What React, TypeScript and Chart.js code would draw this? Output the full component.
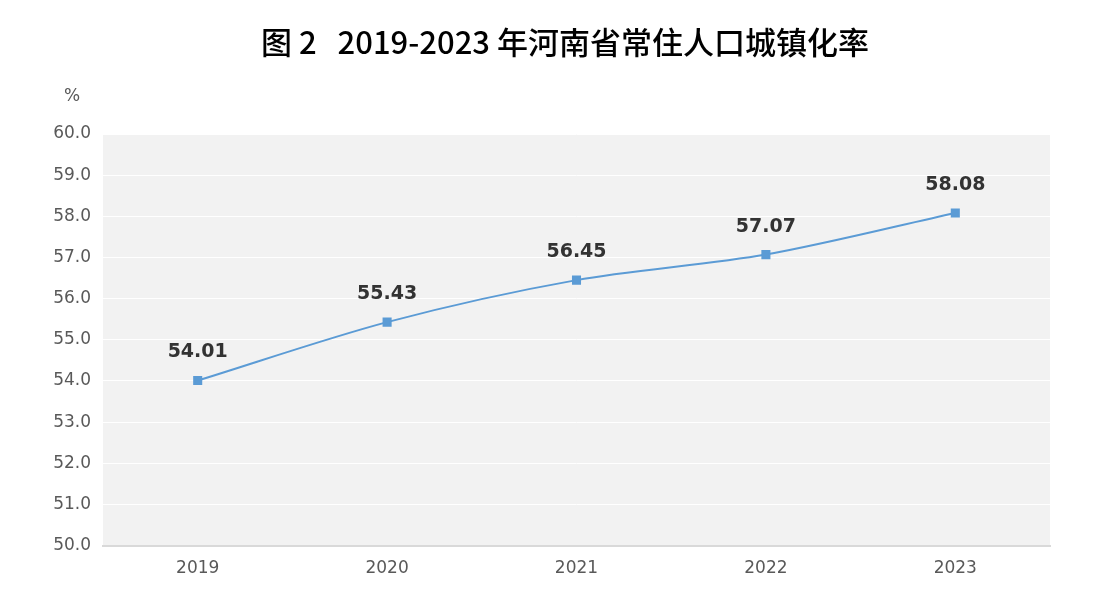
import React, { useEffect, useRef } from "react";
import { Chart, registerables } from "chart.js";

Chart.register(...registerables);

const titleText = "图 2   2019-2023 年河南省常住人口城镇化率";
const unitLabel = "%";
const years = ["2019", "2020", "2021", "2022", "2023"];
const rates = [54.01, 55.43, 56.45, 57.07, 58.08];
const yMin = 50;
const yMax = 60;
const yStep = 1;

const tickFont = "DejaVu Sans, sans-serif";

const decorPlugin = {
  id: "decor",
  beforeDraw(chart: any) {
    const { ctx, chartArea } = chart;
    ctx.save();
    ctx.fillStyle = "#f2f2f2";
    ctx.fillRect(chartArea.left, chartArea.top, chartArea.right - chartArea.left, chartArea.bottom - chartArea.top);
    ctx.restore();
  },
  afterDraw(chart: any) {
    const { ctx, chartArea } = chart;
    ctx.save();
    ctx.fillStyle = "#000";
    ctx.font = "500 31px 'Noto Sans CJK SC', sans-serif";
    ctx.textAlign = "center";
    ctx.textBaseline = "middle";
    ctx.fillText(titleText, 557, 34);
    ctx.fillStyle = "#595959";
    ctx.font = `17px ${tickFont}`;
    ctx.fillText(unitLabel, chartArea.left - 31, chartArea.top - 37);
    const meta = chart.getDatasetMeta(0);
    ctx.fillStyle = "#333";
    ctx.font = `bold 19px ${tickFont}`;
    ctx.textBaseline = "middle";
    meta.data.forEach((pt: any, i: number) => {
      ctx.fillText(rates[i].toFixed(2), pt.x, pt.y - 28);
    });
    ctx.restore();
  },
};

export default function App() {
  const ref = useRef<HTMLCanvasElement | null>(null);
  useEffect(() => {
    if (!ref.current) return;
    const chart = new Chart(ref.current, {
      type: "line",
      data: {
        labels: years,
        datasets: [
          {
            data: rates,
            borderColor: "#5b9bd5",
            backgroundColor: "#5b9bd5",
            borderWidth: 2,
            pointStyle: "rect",
            pointRadius: 5,
            pointHoverRadius: 5,
            pointBackgroundColor: "#5b9bd5",
            pointBorderColor: "#5b9bd5",
            tension: 0.3,
            fill: false,
          },
        ],
      },
      options: {
        animation: false,
        responsive: true,
        maintainAspectRatio: false,
        layout: { padding: { top: 126, bottom: 10, left: 0, right: 50 } },
        plugins: {
          legend: { display: false },
          tooltip: { enabled: false },
          title: { display: false },
        },
        scales: {
          x: {
            offset: true,
            grid: { display: false, drawTicks: false },
            border: { display: true, color: "#d9d9d9", width: 2 },
            ticks: { color: "#595959", font: { family: tickFont, size: 17 }, padding: 13 },
          },
          y: {
            min: yMin,
            max: yMax,
            afterFit(scale: any) {
              scale.width = 95;
            },
            grid: { color: "#ffffff", lineWidth: 1, drawTicks: false },
            border: { display: false },
            ticks: {
              stepSize: yStep,
              color: "#595959",
              font: { family: tickFont, size: 17 },
              padding: 12,
              callback: (v: any) => Number(v).toFixed(1),
            },
          },
        },
      },
      plugins: [decorPlugin],
    });
    return () => chart.destroy();
  }, []);
  return (
    <div style={{ width: 1092, height: 594 }}>
      <canvas ref={ref} />
    </div>
  );
}
